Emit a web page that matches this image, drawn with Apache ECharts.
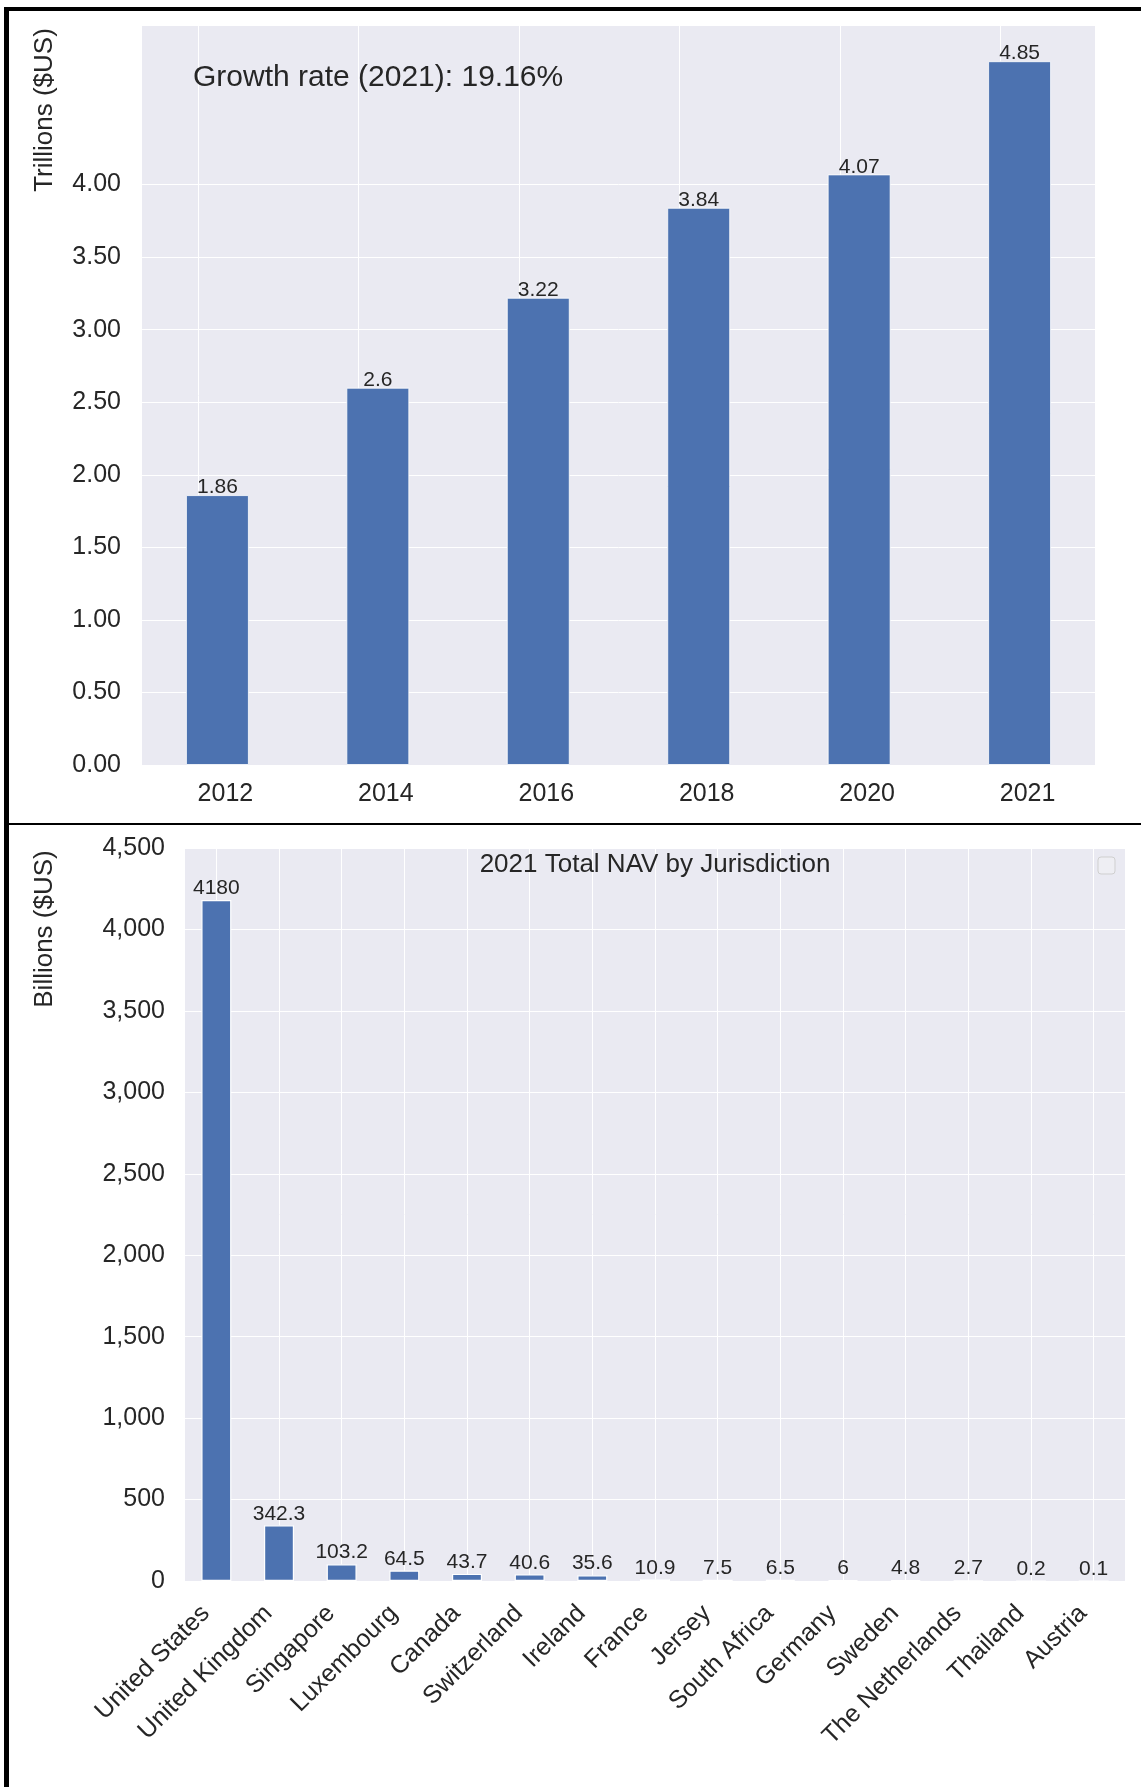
<!DOCTYPE html>
<html>
<head>
    <meta charset="utf-8">
    <script src="https://cdn.jsdelivr.net/npm/echarts@6.0.0/dist/echarts.min.js"></script>
</head>
<style>
    *{
        margin:0;
        padding:0;
    }
    body{
        background:#fff;
    }
</style>
<body>
<div id="main" style="width:1141px;height:1787px;"></div>
<script type="text/javascript">
    // top chart: total NAV per year (trillions)
    var years = ['2012', '2014', '2016', '2018', '2020', '2021'];
    var trillions = [1.86, 2.6, 3.22, 3.84, 4.07, 4.85];
    var trillionTicks = [0, 0.5, 1, 1.5, 2, 2.5, 3, 3.5, 4];
    var growthText = 'Growth rate (2021): 19.16%';

    // bottom chart: 2021 NAV by jurisdiction (billions)
    var jurisdictions = ['United States', 'United Kingdom', 'Singapore', 'Luxembourg', 'Canada',
        'Switzerland', 'Ireland', 'France', 'Jersey', 'South Africa', 'Germany', 'Sweden',
        'The Netherlands', 'Thailand', 'Austria'];
    var billions = [4180, 342.3, 103.2, 64.5, 43.7, 40.6, 35.6, 10.9, 7.5, 6.5, 6, 4.8, 2.7, 0.2, 0.1];
    var billionMax = 4500;
    var billionStep = 500;

    var BAR = '#4C72B0';
    var BG = '#EAEAF2';
    var TXT = '#262626';
    var FONT = '"Liberation Sans", Arial, sans-serif';

    var topMax = Math.max.apply(null, trillions) * 1.05;

    // grid line colours: white up to 4.00, hidden above
    var topLineColors = trillionTicks.map(function () { return '#ffffff'; }).concat([BG, BG, BG]);

    var dom = document.getElementById('main');
    var myChart = echarts.init(dom, null, {renderer: 'canvas'});

    var option = {
        backgroundColor: '#ffffff',
        animation: false,
        textStyle: {fontFamily: FONT},
        grid: [
            {left: 142, top: 26, width: 953, height: 739, show: true, backgroundColor: BG, borderWidth: 0},
            {left: 185, top: 848, width: 940, height: 733, show: true, backgroundColor: BG, borderWidth: 0}
        ],
        xAxis: [
            {
                gridIndex: 0, type: 'value', min: -0.47, max: 5.47,
                minInterval: 1, maxInterval: 1, position: 'bottom',
                axisLine: {show: false}, axisTick: {show: false}, splitLine: {show: false},
                axisLabel: {
                    fontSize: 25, color: TXT, margin: 17, padding: [0, 0, 0, 16],
                    formatter: function (v) { return Number.isInteger(v) ? years[v] : ''; }
                }
            },
            {
                // only carries the vertical grid lines of the top chart
                gridIndex: 0, type: 'value', min: -0.35, max: 5.59,
                minInterval: 1, maxInterval: 1, position: 'top',
                axisLine: {show: false}, axisTick: {show: false}, axisLabel: {show: false},
                splitLine: {show: true, showMinLine: false, showMaxLine: false, lineStyle: {color: '#ffffff', width: 1}}
            },
            {
                gridIndex: 1, type: 'value', min: -0.5, max: jurisdictions.length - 0.5,
                minInterval: 1, maxInterval: 1, position: 'bottom',
                axisLine: {show: false}, axisTick: {show: false},
                splitLine: {show: true, showMinLine: false, showMaxLine: false, lineStyle: {color: '#ffffff', width: 1}},
                axisLabel: {
                    fontSize: 25, color: TXT, margin: 18, rotate: 45, padding: [0, 15, 0, 0],
                    formatter: function (v) { return Number.isInteger(v) ? (jurisdictions[v] || '') : ''; }
                }
            }
        ],
        yAxis: [
            {
                gridIndex: 0, type: 'value', min: 0, max: topMax, interval: 0.5,
                axisLine: {show: false}, axisTick: {show: false},
                axisLabel: {
                    fontSize: 25, color: TXT, margin: 21,
                    formatter: function (v) {
                        for (var i = 0; i < trillionTicks.length; i++) {
                            if (Math.abs(trillionTicks[i] - v) < 1e-6) return v.toFixed(2);
                        }
                        return '';
                    }
                },
                splitLine: {show: true, showMaxLine: false, lineStyle: {color: topLineColors, width: 1}}
            },
            {
                gridIndex: 1, type: 'value', min: 0, max: billionMax, interval: billionStep,
                axisLine: {show: false}, axisTick: {show: false},
                axisLabel: {
                    fontSize: 25, color: TXT, margin: 20,
                    formatter: function (v) { return v.toLocaleString('en-US'); }
                },
                splitLine: {show: true, lineStyle: {color: '#ffffff', width: 1}}
            }
        ],
        series: [
            {
                type: 'bar', xAxisIndex: 0, yAxisIndex: 0, barWidth: 63,
                data: trillions.map(function (v, i) { return [i, v]; }),
                itemStyle: {color: BAR, borderColor: 'rgba(255,255,255,0.8)', borderWidth: 1},
                label: {
                    show: true, position: 'top', distance: -3, fontSize: 21, color: TXT,
                    formatter: function (p) { return String(p.value[1]); }
                }
            },
            {
                type: 'bar', xAxisIndex: 2, yAxisIndex: 1, barWidth: 30,
                data: billions.map(function (v, i) { return [i, v]; }),
                itemStyle: {color: BAR, borderColor: '#ffffff', borderWidth: 1.2},
                label: {
                    show: true, position: 'top', distance: 1, fontSize: 21, color: TXT,
                    formatter: function (p) { return String(p.value[1]); }
                }
            }
        ],
        graphic: [
            // axis titles and texts
            {type: 'text', x: 45, y: 110, rotation: Math.PI / 2, z: 10,
                style: {text: 'Trillions ($US)', font: '26px ' + FONT, fill: TXT, align: 'center', verticalAlign: 'middle'}},
            {type: 'text', x: 45, y: 929, rotation: Math.PI / 2, z: 10,
                style: {text: 'Billions ($US)', font: '26px ' + FONT, fill: TXT, align: 'center', verticalAlign: 'middle'}},
            {type: 'text', x: 193, y: 78, z: 10,
                style: {text: growthText, font: '30px ' + FONT, fill: TXT, align: 'left', verticalAlign: 'middle'}},
            {type: 'text', x: 655, y: 865, z: 10,
                style: {text: '2021 Total NAV by Jurisdiction', font: '26px ' + FONT, fill: TXT, align: 'center', verticalAlign: 'middle'}},
            // empty legend box
            {type: 'rect', z: 10, shape: {x: 1098, y: 857, width: 17, height: 17, r: 3},
                style: {fill: '#EEEEF3', stroke: '#CFCFCF', lineWidth: 1}},
            // screenshot frame lines
            {type: 'rect', z: 20, shape: {x: 4, y: 7, width: 5, height: 1780}, style: {fill: '#000'}},
            {type: 'rect', z: 20, shape: {x: 4, y: 7, width: 1137, height: 4}, style: {fill: '#000'}},
            {type: 'rect', z: 20, shape: {x: 9, y: 823, width: 1132, height: 2}, style: {fill: '#000'}}
        ]
    };

    myChart.setOption(option);
</script>
</body>
</html>
